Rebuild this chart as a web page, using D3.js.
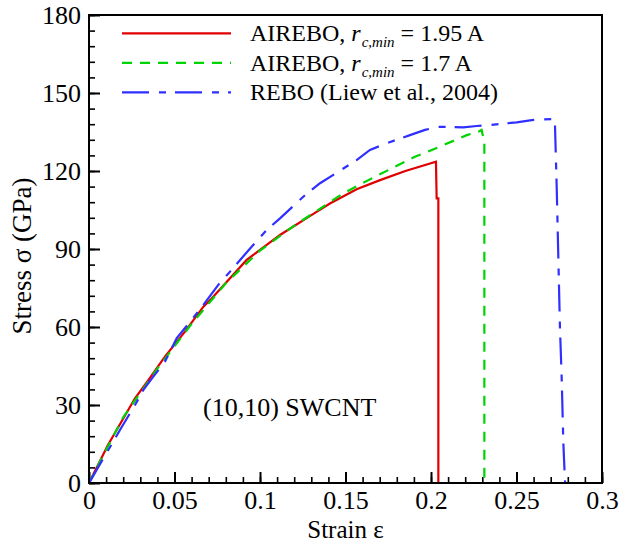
<!DOCTYPE html>
<html>
<head>
<meta charset="utf-8">
<script src="https://cdn.jsdelivr.net/npm/d3@7"></script>
<style>
  body { margin: 0; background: #fff; }
  svg text { font-family: "Liberation Serif", "Times New Roman", Times, "DejaVu Serif", serif; fill: #000; }
</style>
</head>
<body>
<div id="chart"></div>
<script>
// Chart size and plot box
var W = 636, H = 546;
var margin = { top: 15, right: 34, bottom: 63, left: 89 };
var width = W - margin.left - margin.right;
var height = H - margin.top - margin.bottom;
var serif = '"Liberation Serif", "Times New Roman", Times, "DejaVu Serif", serif';

// Series data (strain, stress in GPa)
var redStrain = [0, 0.011, 0.0269, 0.0347, 0.0444, 0.0561, 0.0669, 0.0717, 0.0922, 0.1117, 0.1312, 0.1409, 0.1565, 0.1702, 0.185, 0.2029, 0.2033, 0.2043, 0.2043];
var redStress = [0, 14.5, 32.6, 39.6, 48.6, 58.2, 67.8, 71.0, 85.8, 95.4, 103.5, 107.5, 113, 116.5, 120, 123.6, 109.5, 109.5, 0];

var greenStrain = [0, 0.0054, 0.02, 0.04, 0.06, 0.08, 0.1, 0.12, 0.1487, 0.1634, 0.177, 0.1906, 0.2053, 0.2209, 0.2277, 0.2296, 0.2312, 0.2312];
var greenStress = [0, 6.9, 25.3, 44, 61.2, 76.8, 89.4, 99, 111.4, 116.5, 121, 125.5, 129.4, 133.8, 135.1, 135.8, 131, 0];

var blueStrain = [0, 0.0016, 0.0084, 0.0142, 0.0181, 0.0269, 0.0318, 0.0376, 0.0444, 0.0513, 0.0591, 0.0669, 0.0756, 0.0825, 0.0951, 0.1039, 0.1117, 0.1253, 0.1351, 0.1429, 0.1565, 0.1643, 0.1741, 0.1877, 0.1965, 0.2043, 0.2189, 0.2267, 0.2345, 0.2501, 0.2589, 0.2716, 0.2725, 0.2735, 0.2745, 0.2754, 0.2764, 0.2774, 0.2784];
var blueStress = [0, 1.8, 9.5, 15.9, 20.4, 30, 35.8, 40.9, 46.7, 55.7, 62, 68.5, 76.2, 81.3, 90.9, 97.3, 101.8, 110.1, 115.3, 118.5, 124.2, 128.1, 130.7, 133.8, 135.8, 137, 136.8, 137.3, 137.7, 138.7, 139.6, 140, 137.7, 114, 85.8, 60.1, 40.9, 15.3, 0];

// Axis ticks
var xTicks = [0, 0.05, 0.1, 0.15, 0.2, 0.25, 0.3];
var xMinor = d3.range(0, 0.3001, 0.01);
var yTicks = [0, 30, 60, 90, 120, 150, 180];
var yMinor = d3.range(0, 180.1, 6);

var series = [
  { name: "AIREBO, r c,min = 1.95 A", x: redStrain, y: redStress, color: "#e00000", dash: null, rc: "1.95" },
  { name: "AIREBO, r c,min = 1.7 A", x: greenStrain, y: greenStress, color: "#00d400", dash: "10,8", rc: "1.7" },
  { name: "REBO (Liew et al., 2004)", x: blueStrain, y: blueStress, color: "#2f2fff", dash: "27,10,7,9", rc: null }
];

var svg = d3.select("#chart").append("svg")
  .attr("width", W).attr("height", H)
  .append("g")
  .attr("transform", "translate(" + margin.left + "," + margin.top + ")");

var xScale = d3.scaleLinear().domain([0, 0.3]).range([0, width]);
var yScale = d3.scaleLinear().domain([0, 180]).range([height, 0]);

// Minor ticks (inward)
svg.append("g")
  .attr("transform", "translate(0," + height + ")")
  .call(d3.axisBottom(xScale).tickValues(xMinor).tickSize(-6).tickFormat(""))
  .call(function (g) { g.select(".domain").remove(); g.selectAll("line").attr("stroke-width", 1.6); });
svg.append("g")
  .call(d3.axisLeft(yScale).tickValues(yMinor).tickSize(-6).tickFormat(""))
  .call(function (g) { g.select(".domain").remove(); g.selectAll("line").attr("stroke-width", 1.6); });

// Major ticks with labels
svg.append("g")
  .attr("transform", "translate(0," + height + ")")
  .call(d3.axisBottom(xScale).tickValues(xTicks).tickSize(-11).tickPadding(8).tickFormat(d3.format("")))
  .call(function (g) {
    g.attr("font-family", serif);
    g.select(".domain").remove();
    g.selectAll("line").attr("stroke-width", 2);
    g.selectAll("text").attr("font-size", 26);
  });
svg.append("g")
  .call(d3.axisLeft(yScale).tickValues(yTicks).tickSize(-11).tickPadding(8))
  .call(function (g) {
    g.attr("font-family", serif);
    g.select(".domain").remove();
    g.selectAll("line").attr("stroke-width", 2);
    g.selectAll("text").attr("font-size", 26);
  });

// Data lines
var line = d3.line()
  .x(function (d) { return xScale(d[0]); })
  .y(function (d) { return yScale(d[1]); });

series.forEach(function (s) {
  var pts = s.x.map(function (v, i) { return [v, s.y[i]]; });
  svg.append("path")
    .datum(pts)
    .attr("d", line)
    .attr("fill", "none")
    .attr("stroke", s.color)
    .attr("stroke-width", 2.2)
    .attr("stroke-dasharray", s.dash);
});

// Frame
svg.append("rect")
  .attr("width", width).attr("height", height)
  .attr("fill", "none").attr("stroke", "#000").attr("stroke-width", 2);

// Legend
var legend = svg.append("g");
series.forEach(function (s, i) {
  var ly = 18.3 + i * 29.5;
  legend.append("line")
    .attr("x1", 33).attr("x2", 142)
    .attr("y1", ly).attr("y2", ly)
    .attr("stroke", s.color).attr("stroke-width", 2.2)
    .attr("stroke-dasharray", s.dash);
  var t = legend.append("text")
    .attr("x", 161).attr("y", ly + 8)
    .attr("font-size", 24);
  if (s.rc) {
    t.append("tspan").text("AIREBO, ");
    t.append("tspan").attr("font-style", "italic").text("r");
    t.append("tspan").attr("font-style", "italic").attr("font-size", 15).attr("dy", 6).attr("dx", 1).text("c,min");
    t.append("tspan").attr("dy", -6).text(" = " + s.rc + " A");
  } else {
    t.text(s.name);
  }
});

// Annotation
svg.append("text")
  .attr("x", 114).attr("y", 416 - margin.top)
  .attr("font-size", 26)
  .text("(10,10) SWCNT");

// Axis titles
svg.append("text")
  .attr("x", width / 2).attr("y", 538 - margin.top)
  .attr("text-anchor", "middle")
  .attr("font-size", 25)
  .text("Strain ε");

svg.append("text")
  .attr("transform", "translate(" + (31 - margin.left) + "," + (256 - margin.top) + ") rotate(-90)")
  .attr("text-anchor", "middle")
  .attr("font-size", 27)
  .text("Stress σ (GPa)");
</script>
</body>
</html>
